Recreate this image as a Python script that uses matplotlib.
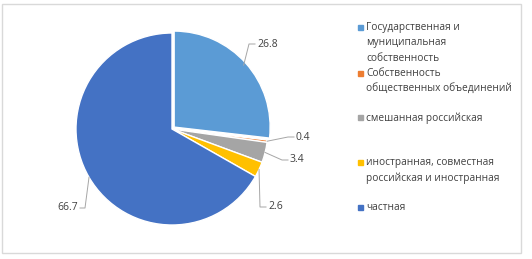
import numpy as np
import matplotlib
matplotlib.use('Agg')
import matplotlib.pyplot as plt
from matplotlib.patches import Rectangle

plt.rcParams['font.family'] = ['Open Sans', 'DejaVu Sans']

# данные
labels = ['Государственная и\nмуниципальная\nсобственность',
          'Собственность\nобщественных объединений',
          'смешанная российская',
          'иностранная, совместная\nроссийская и иностранная',
          'частная']
values = [26.8, 0.4, 3.4, 2.6, 66.7]
colors = ['#5b9bd5', '#ed7d31', '#a5a5a5', '#ffc000', '#4472c4']

# позиции подписей (пиксели картинки) и сторона
lab_pos = [(257, 44), (296, 137), (290, 160), (268, 207), (78, 208)]
lab_side = ['l', 'l', 'l', 'l', 'r']
leg_y = [27, 73, 117, 162, 207]

W, H = 532, 259
fig = plt.figure(figsize=(W/100, H/100), dpi=100)
fig.patches.append(Rectangle((2/W, 6/H), 519/W, 249/H, transform=fig.transFigure,
                             fill=False, ec='#d9d9d9', lw=1))

cx, cy, R = 172, 129, 96
ax = fig.add_axes([(cx-R)/W, (H-cy-R)/H, 2*R/W, 2*R/H])
wedges, _ = ax.pie(values, colors=colors, startangle=90, counterclock=False,
                   explode=[0.03, 0, 0, 0, 0],
                   wedgeprops=dict(edgecolor='white', linewidth=1))
ax.set_xlim(-1, 1)
ax.set_ylim(-1, 1)
ax.set_aspect('equal')

def px2d(px, py):
    return (px-cx)/R, (cy-py)/R

for w, v, (px, py), side in zip(wedges, values, lab_pos, lab_side):
    a = np.deg2rad((w.theta1 + w.theta2)/2)
    ex, ey = np.cos(a), np.sin(a)
    tx, ty = px2d(px, py)
    if side == 'l':
        x1 = tx - 2/R
        x0 = x1 - 6/R
        ha = 'left'
    else:
        x1 = tx + 2/R
        x0 = x1 + 5/R
        ha = 'right'
    ax.plot([ex, x0, x1], [ey, ty, ty], color='#a6a6a6', lw=0.7, clip_on=False)
    ax.text(tx, ty, f'{v}', ha=ha, va='center', fontsize=7.5, color='#404040')

# легенда
for lab, c, y in zip(labels, colors, leg_y):
    fig.patches.append(Rectangle((358/W, (H-y-2.5)/H), 5/W, 5/H,
                                 transform=fig.transFigure, color=c))
    fig.text(366/W, (H-y+5)/H, lab, ha='left', va='top', fontsize=7.3,
             color='#404040', linespacing=1.55)

plt.savefig('out.png', dpi=100)
